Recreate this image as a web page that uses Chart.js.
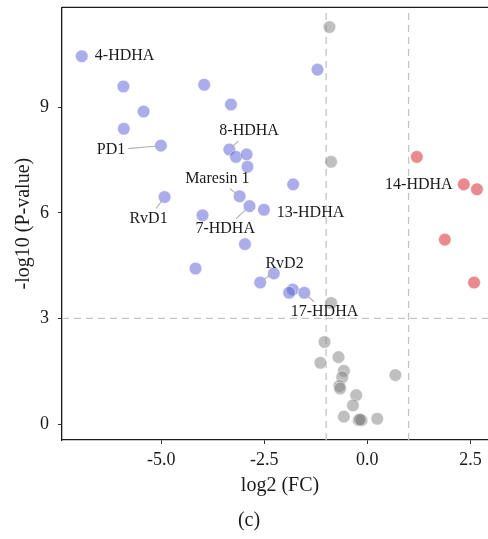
<!DOCTYPE html>
<html><head><meta charset="utf-8">
<script src="https://cdn.jsdelivr.net/npm/chart.js@4.4.1/dist/chart.umd.min.js"></script>
<style>
html,body{margin:0;padding:0;overflow:hidden;background:#fff;width:488px;height:539px}
#wrap{position:absolute;left:0;top:0;width:508px;height:539px}
</style></head><body>
<div id="wrap"><canvas id="c"></canvas></div>
<script>
// Down-regulated (blue)
const downX=[-6.93,-5.92,-3.96,-3.31,-5.43,-5.91,-5.01,-3.35,-3.19,-2.93,-2.91,-1.80,-4.92,-3.10,-2.86,-2.51,-4.00,-2.97,-4.17,-2.27,-2.60,-1.81,-1.90,-1.53,-1.21];
const downY=[10.45,9.59,9.64,9.08,8.88,8.39,7.91,7.80,7.59,7.66,7.31,6.81,6.45,6.47,6.19,6.09,5.93,5.11,4.42,4.28,4.02,3.82,3.73,3.73,10.07];
// Up-regulated (red)
const upX=[1.20,2.34,2.66,1.88,2.59];
const upY=[7.59,6.81,6.67,5.24,4.02];
// Not significant (grey)
const nsX=[-0.92,-0.88,-0.88,-1.04,-0.70,-1.14,-0.57,-0.61,-0.68,-0.66,0.68,-0.27,-0.35,-0.57,-0.21,-0.14,-0.18,0.24];
const nsY=[11.28,7.45,3.44,2.33,1.90,1.74,1.51,1.33,1.08,1.01,1.39,0.82,0.53,0.21,0.11,0.11,0.13,0.15];
// Thresholds
const fcCut=[-1,1];
const pCut=3;
// Axis
const xMin=-7.41, xMax=3.17, yMin=-0.454, yMax=11.84;
const xTicks=[-5,-2.5,0,2.5];
const xTickLabels=['-5.0','-2.5','0.0','2.5'];
const yTicks=[0,3,6,9];
const yTickLabels=['0','3','6','9'];
// Labels (text anchor in data units, linked point)
const labelNames=['4-HDHA','PD1','8-HDHA','Maresin 1','RvD1','7-HDHA','13-HDHA','14-HDHA','RvD2','17-HDHA'];
const labelX=[-5.89,-6.22,-2.87,-3.64,-5.31,-3.45,-1.38,1.25,-2.01,-1.04];
const labelY=[10.45,7.78,8.32,6.97,5.84,5.55,6.00,6.80,4.56,3.19];
const labelGroup=['down','down','down','down','down','down','down','up','down','down'];
const labelIndex=[0,6,7,13,12,14,15,1,20,23];
const labelLeader=[false,true,true,true,true,true,false,false,true,true];

const FONT="'Liberation Serif','DejaVu Serif','Times New Roman',serif";
const pts=(xs,ys)=>xs.map((x,i)=>({x:x,y:ys[i]}));

const datasets=[];
fcCut.forEach(v=>datasets.push({type:'line',data:[{x:v,y:yMin},{x:v,y:yMax}],borderColor:'#c4c4c4',borderWidth:1.3,borderDash:[7,5],pointRadius:0,order:10}));
datasets.push({type:'line',data:[{x:xMin,y:pCut},{x:xMax,y:pCut}],borderColor:'#c4c4c4',borderWidth:1.3,borderDash:[7,5],pointRadius:0,order:10});
const ptStyle={pointRadius:6.3,borderWidth:1,borderColor:'rgba(255,255,255,0.45)'};
datasets.push(Object.assign({type:'scatter',label:'ns',data:pts(nsX,nsY),backgroundColor:'rgba(127,127,127,0.5)',order:3},ptStyle));
datasets.push(Object.assign({type:'scatter',label:'down',data:pts(downX,downY),backgroundColor:'rgba(85,92,214,0.5)',order:2},ptStyle));
datasets.push(Object.assign({type:'scatter',label:'up',data:pts(upX,upY),backgroundColor:'rgba(217,60,67,0.6)',order:1},ptStyle));

const groups={down:[downX,downY],up:[upX,upY],ns:[nsX,nsY]};

const labelPlugin={
  id:'labels',
  afterDatasetsDraw(chart){
    const {ctx,scales:{x,y},chartArea:ca}=chart;
    ctx.save();
    ctx.strokeStyle='#1a1a1a';ctx.lineWidth=1.3;
    ctx.beginPath();ctx.moveTo(ca.left,ca.top);ctx.lineTo(ca.right,ca.top);ctx.lineTo(ca.right,ca.bottom);ctx.stroke();
    ctx.font='16px '+FONT;
    ctx.textAlign='center';ctx.textBaseline='middle';
    labelNames.forEach((name,i)=>{
      const lx=x.getPixelForValue(labelX[i]), ly=y.getPixelForValue(labelY[i]);
      const g=groups[labelGroup[i]];
      const px=x.getPixelForValue(g[0][labelIndex[i]]), py=y.getPixelForValue(g[1][labelIndex[i]]);
      if(labelLeader[i]){
        const w=ctx.measureText(name).width;
        const hw=w/2+3, hh=10;
        const dx=px-lx, dy=py-ly, len=Math.hypot(dx,dy);
        const t=Math.min(dx?hw/Math.abs(dx):Infinity, dy?hh/Math.abs(dy):Infinity);
        const sx=lx+dx*t, sy=ly+dy*t;
        const ex=px-dx/len*3.5, ey=py-dy/len*3.5;
        ctx.strokeStyle='#b0b0b0';ctx.lineWidth=1.1;
        ctx.beginPath();ctx.moveTo(sx,sy);ctx.lineTo(ex,ey);ctx.stroke();
      }
      ctx.fillStyle='#1a1a1a';
      ctx.fillText(name,lx,ly);
    });
    ctx.restore();
  }
};

new Chart(document.getElementById('c'),{
  data:{datasets:datasets},
  options:{
    responsive:true,maintainAspectRatio:false,animation:false,events:[],
    layout:{padding:{top:7,right:10,left:0,bottom:0}},
    plugins:{
      legend:{display:false},tooltip:{enabled:false},
      title:{display:true,position:'bottom',text:'(c)',color:'#1a1a1a',font:{family:FONT,size:20,weight:'normal'},padding:{top:9,bottom:6}}
    },
    scales:{
      x:{type:'linear',min:xMin,max:xMax,
        afterBuildTicks:a=>{a.ticks=xTicks.map(v=>({value:v}));},
        afterFit:a=>{a.height=60;a.paddingLeft=0;a.paddingRight=0;},
        ticks:{color:'#1a1a1a',font:{family:FONT,size:18},padding:5,maxRotation:0,callback:(v,i)=>xTickLabels[i]},
        grid:{drawOnChartArea:false,drawTicks:true,tickLength:4,color:'#333'},
        border:{display:true,color:'#1a1a1a',width:1.3},
        title:{display:true,text:'log2 (FC)',color:'#1a1a1a',font:{family:FONT,size:20},padding:{top:0,bottom:2}}
      },
      y:{type:'linear',min:yMin,max:yMax,
        afterBuildTicks:a=>{a.ticks=yTicks.map(v=>({value:v}));},
        afterFit:a=>{a.width=62;a.paddingTop=0;a.paddingBottom=0;},
        ticks:{color:'#1a1a1a',font:{family:FONT,size:18},padding:9,callback:(v,i)=>yTickLabels[i]},
        grid:{drawOnChartArea:false,drawTicks:true,tickLength:4,color:'#333'},
        border:{display:true,color:'#1a1a1a',width:1.3},
        title:{display:true,text:'-log10 (P-value)',color:'#1a1a1a',font:{family:FONT,size:20},padding:{top:12,bottom:0}}
      }
    }
  },
  plugins:[labelPlugin]
});
</script>
</body></html>
